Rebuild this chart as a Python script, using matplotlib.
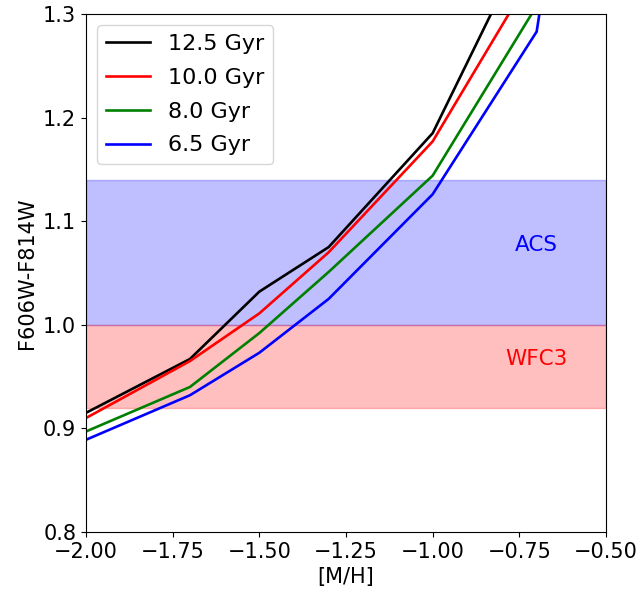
import matplotlib
matplotlib.use("Agg")
import matplotlib.pyplot as plt

# isochrone colours vs metallicity
metal = [-2.0, -1.7, -1.5, -1.3, -1.0, -0.7, -0.6]
ages = ["12.5 Gyr", "10.0 Gyr", "8.0 Gyr", "6.5 Gyr"]
col_125 = [0.915, 0.967, 1.032, 1.075, 1.185, 1.390, 1.62]
col_100 = [0.910, 0.965, 1.011, 1.070, 1.177, 1.345, 1.57]
col_80 = [0.897, 0.940, 0.992, 1.051, 1.144, 1.308, 1.53]
col_65 = [0.889, 0.932, 0.973, 1.025, 1.126, 1.283, 1.50]
colors = ["black", "red", "green", "blue"]

# colour ranges covered by each camera
acs_range = (1.0, 1.14)
wfc3_range = (0.92, 1.0)

xticks = [-2.0, -1.75, -1.5, -1.25, -1.0, -0.75, -0.5]

plt.rcParams["font.size"] = 15

fig = plt.figure(figsize=(6.44, 5.96), dpi=100)
ax = fig.add_axes([0.1335, 0.1074, 0.8075, 0.8691])

for vals, name, c in zip([col_125, col_100, col_80, col_65], ages, colors):
    ax.plot(metal, vals, color=c, lw=1.9, label=name)

ax.axhspan(*acs_range, color="blue", alpha=0.25)
ax.axhspan(*wfc3_range, color="red", alpha=0.25)
ax.text(-0.7, 1.077, "ACS", color="blue", ha="center", va="center", fontsize=15.5)
ax.text(-0.7, 0.967, "WFC3", color="red", ha="center", va="center", fontsize=15.5)

ax.set_xlim(-2.0, -0.5)
ax.set_ylim(0.8, 1.3)
ax.set_xticks(xticks)
ax.set_xlabel("[M/H]")
ax.set_ylabel("F606W-F814W")
ax.legend(loc="upper left", fontsize=16, labelspacing=0.62, handlelength=2.0)

fig.savefig("out.png", dpi=100)
